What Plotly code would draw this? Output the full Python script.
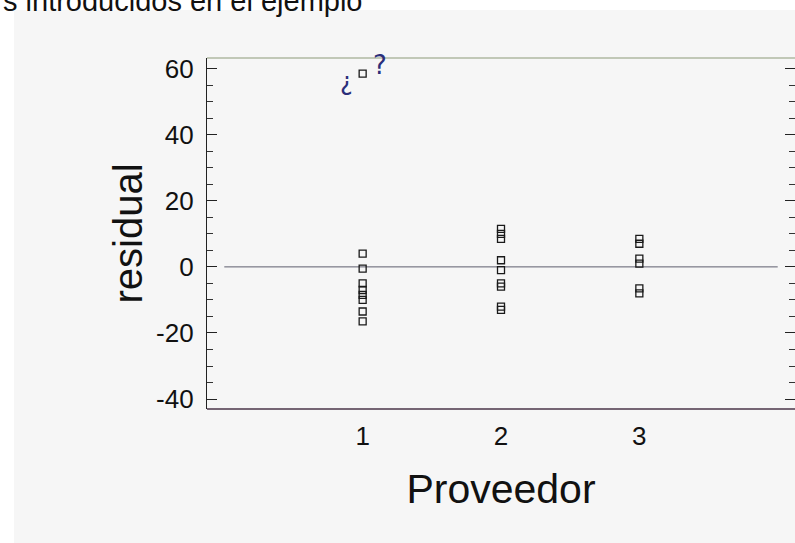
import plotly.graph_objects as go

# Data
prov1 = [1, 1, 1, 1, 1, 1, 1, 1, 1]
res1 = [58.5, 4.0, -0.5, -5.0, -7.0, -8.5, -10.0, -13.5, -16.5]
prov2 = [2, 2, 2, 2, 2, 2, 2, 2, 2]
res2 = [11.5, 10.0, 8.5, 2.0, -1.0, -5.0, -6.0, -12.0, -13.0]
prov3 = [3, 3, 3, 3, 3, 3]
res3 = [8.5, 7.0, 2.5, 1.0, -6.5, -8.0]
x_ticks = [1, 2, 3]
y_ticks = [-40, -20, 0, 20, 40, 60]

proveedor = prov1 + prov2 + prov3
residual = res1 + res2 + res3

# layout geometry (pixels); body margin removed by post_script
W, H = 795, 543
L, R, T, B = 207, 0, 58, 134
pw = W - L - R
ph = H - T - B

def sx(xs):  # screen x -> paper x
    return (xs - L) / pw

def sy(ys):  # screen y -> paper y
    return (H - B - ys) / ph

fig = go.Figure()
# zero reference line from x=0 to x=4
fig.add_trace(go.Scatter(x=[0, 4], y=[0, 0], mode="lines",
                         line=dict(color="#5e5e6e", width=1),
                         hoverinfo="skip", showlegend=False))
fig.add_trace(go.Scatter(x=proveedor, y=residual, mode="markers",
                         marker=dict(symbol="square-open", size=7,
                                     color="#1a1a1a", line=dict(width=1.3)),
                         showlegend=False))

bg = "#f6f6f6"
fig.update_layout(
    width=W, height=H,
    margin=dict(l=L, r=R, t=T, b=B, autoexpand=False),
    paper_bgcolor="white",
    plot_bgcolor=bg,
    font=dict(family="Liberation Sans, Arial, sans-serif", color="#111"),
    showlegend=False,
    shapes=[
        dict(type="rect", xref="paper", yref="paper",
             x0=sx(14), x1=1.05, y0=sy(H + 10), y1=sy(10),
             fillcolor=bg, line=dict(width=0), layer="below"),
        dict(type="line", xref="paper", yref="paper",
             x0=0, x1=1, y0=1, y1=1,
             line=dict(color="#8c9a78", width=1.2)),
        dict(type="line", xref="paper", yref="paper",
             x0=0, x1=1, y0=0, y1=0,
             line=dict(color="#4a3548", width=1.5)),
    ],
    annotations=[
        dict(text="s introducidos en el ejemplo", xref="paper", yref="paper",
             x=sx(1), y=sy(19), xanchor="left", yanchor="bottom",
             showarrow=False, font=dict(size=29, color="#111")),
        dict(text="¿", xref="paper", yref="paper", x=sx(338), y=sy(66),
             showarrow=False, font=dict(size=24, color="#2b2f7a",
                                        family="DejaVu Sans")),
        dict(text="?", xref="paper", yref="paper", x=sx(371), y=sy(48),
             showarrow=False, font=dict(size=26, color="#2b2f7a",
                                        family="DejaVu Sans")),
    ],
)

fig.update_xaxes(
    range=[-0.125, 4.125],
    tickvals=x_ticks, ticktext=[str(v) for v in x_ticks],
    ticks="", showgrid=False, zeroline=False,
    showline=False, automargin=False,
    tickfont=dict(size=26),
    ticklabelstandoff=9,
    title=dict(text="Proveedor", font=dict(size=41), standoff=24),
)
fig.update_yaxes(
    range=[-43, 63.2],
    tickvals=y_ticks, ticktext=[str(v) for v in y_ticks],
    ticks="inside", ticklen=10, tickwidth=1.3, tickcolor="#222",
    minor=dict(dtick=5, tick0=0, ticks="inside", ticklen=6,
               tickwidth=1, tickcolor="#333"),
    showline=True, linecolor="#222", linewidth=1.3, mirror="ticks",
    showgrid=False, zeroline=False, automargin=False,
    tickfont=dict(size=26),
    ticklabelstandoff=7,
    title=dict(text="residual", font=dict(size=40), standoff=1),
)

fig.write_html(
    "out.html",
    config={"displayModeBar": False},
    post_script="document.body.style.margin='0';"
                "document.body.style.overflow='hidden';",
)
